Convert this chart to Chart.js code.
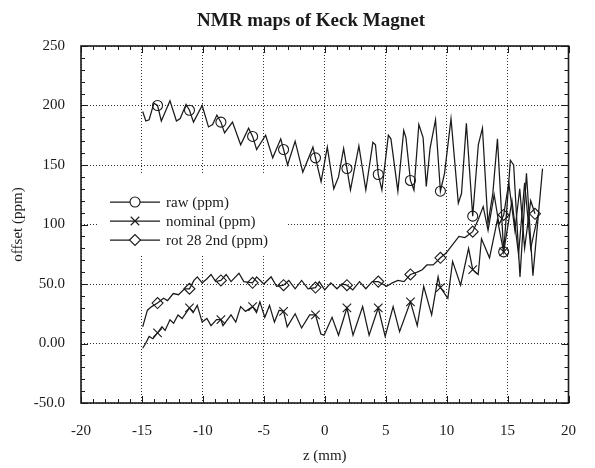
<!DOCTYPE html>
<html>
<head>
<meta charset="utf-8">
<script src="https://cdn.jsdelivr.net/npm/chart.js@4.4.1/dist/chart.umd.min.js"></script>
<style>
  html, body { margin: 0; padding: 0; background: #fff; }
</style>
</head>
<body>
<canvas id="nmrChart" width="595" height="468"></canvas>
<script>
// z positions (mm) and offsets (ppm)
const zRaw = [-14.94,-14.68,-14.41,-14.02,-13.72,-13.41,-12.70,-12.17,-11.86,-11.38,-11.10,-10.77,-10.06,-9.54,-9.20,-8.85,-8.52,-8.22,-7.57,-6.90,-6.25,-5.92,-5.59,-4.85,-4.27,-3.61,-3.38,-3.05,-2.43,-1.80,-0.97,-0.76,-0.30,0.21,0.74,1.13,1.55,1.82,2.11,2.80,3.37,3.95,4.16,4.39,4.69,5.22,5.43,6.00,6.48,6.66,7.03,7.32,7.72,8.07,8.33,8.64,9.09,9.49,9.83,10.36,10.96,11.22,11.62,12.14,12.60,12.94,13.39,13.79,14.17,14.68,15.23,15.50,16.02,16.55,17.08,17.87];
const raw = [195,187,188,202,200,187,204,187,189,201,196,186,200,182,184,192,186,177,186,167,181,174,163,175,156,172,163,150,170,144,165,156,136,165,130,140,164,147,129,166,129,169,167,142,129,175,172,128,179,173,137,129,184,173,132,164,188,128,143,189,118,126,185,107,167,181,101,126,172,77,154,150,56,143,57,147];

const zNom = [-14.94,-14.70,-14.41,-14.10,-13.72,-13.36,-13.10,-12.70,-12.40,-12.04,-11.70,-11.10,-10.80,-10.46,-10.06,-9.67,-9.33,-8.88,-8.52,-8.35,-7.69,-7.30,-6.90,-6.50,-5.92,-5.60,-5.32,-4.92,-4.53,-4.13,-3.74,-3.38,-3.08,-2.43,-1.90,-1.24,-0.76,-0.32,-0.06,0.60,1.13,1.82,2.32,3.11,3.64,4.39,4.96,5.61,6.14,7.03,7.59,8.12,8.77,9.30,9.49,10.10,10.49,11.15,11.80,12.14,12.59,12.86,13.52,14.17,14.68,15.36,15.90,16.40,16.90,17.50];
const nominal = [-4,0,6,4,9,14,11,20,17,24,21,30,26,32,18,21,15,20,20,15,24,18,31,27,31,26,35,22,32,18,28,27,14,25,13,24,24,8,7,22,7,30,7,31,7,30,6,31,10,35,15,48,24,56,47,38,69,49,80,62,58,88,72,104,77,120,75,135,80,108];

const zRot = [-14.94,-14.55,-14.20,-13.72,-13.23,-12.90,-12.43,-12.00,-11.50,-11.10,-10.73,-10.46,-10.06,-9.70,-9.33,-8.95,-8.52,-8.09,-7.69,-7.04,-6.64,-5.92,-5.59,-5.00,-4.40,-3.95,-3.38,-2.95,-2.43,-1.90,-1.37,-0.76,-0.45,0.00,0.50,1.00,1.40,1.82,2.30,2.85,3.37,3.90,4.39,5.08,5.55,6.00,6.50,7.03,7.59,8.00,8.38,8.90,9.49,9.96,10.49,11.01,11.50,12.14,12.59,13.00,13.40,13.90,14.30,14.68,15.10,15.60,16.00,16.40,16.90,17.25];
const rot28 = [14,28,31,34,38,36,42,41,46,46,53,56,51,54,58,52,53,58,52,59,52,51,56,50,56,48,49,53,46,53,46,47,52,45,51,46,50,49,45,52,46,52,52,48,51,53,52,58,60,62,66,66,72,76,83,90,89,94,104,115,95,125,100,108,135,95,130,80,120,109];

// z positions where the plot puts a symbol
const markZ = [-13.72,-11.10,-8.52,-5.92,-3.38,-0.76,1.82,4.39,7.03,9.49,12.14,14.68,17.25];

const seriesNames = ["raw (ppm)", "nominal (ppm)", "rot 28 2nd (ppm)"];
const yTickLabels = ["-50.0", "0.00", "50.0", "100", "150", "200", "250"];

const serif = "'Liberation Serif', 'DejaVu Serif', serif";
const ink = "#1a1a1a";

const styles = ["circle", "crossRot", "rectRot"];
const markSize = [5, 6, 5.5];

function toPoints(zs, vals) {
  return zs.map((z, i) => ({ x: z, y: vals[i] }));
}

function lineSet(i, zs, vals) {
  return {
    label: seriesNames[i],
    data: toPoints(zs, vals),
    borderColor: ink,
    borderWidth: 1.25,
    backgroundColor: "rgba(255,255,255,0)",
    pointStyle: styles[i],
    // symbol only on the marked z positions
    pointRadius: ctx => {
      const z = ctx.raw ? ctx.raw.x : null;
      return markZ.some(m => Math.abs(m - z) < 0.001) ? markSize[i] : 0;
    },
    pointBorderWidth: 1.1,
    pointBorderColor: ink,
    pointBackgroundColor: "rgba(255,255,255,0)",
    tension: 0,
    fill: false
  };
}

// frame, inner ticks, title and the boxed legend
const decorations = {
  id: "decorations",
  afterDraw(chart) {
    const { ctx, chartArea: a, scales: { x, y } } = chart;
    ctx.save();
    ctx.strokeStyle = ink;
    ctx.lineWidth = 1;
    ctx.beginPath();
    for (let v = -20; v <= 20; v++) {
      const px = Math.round(x.getPixelForValue(v)) + 0.5;
      const len = v % 5 === 0 ? 7 : 4;
      ctx.moveTo(px, a.bottom); ctx.lineTo(px, a.bottom - len);
      ctx.moveTo(px, a.top); ctx.lineTo(px, a.top + len);
    }
    for (let v = -50; v <= 250; v += 10) {
      const py = Math.round(y.getPixelForValue(v)) + 0.5;
      const len = v % 50 === 0 ? 7 : 4;
      ctx.moveTo(a.left, py); ctx.lineTo(a.left + len, py);
      ctx.moveTo(a.right, py); ctx.lineTo(a.right - len, py);
    }
    ctx.stroke();

    ctx.lineWidth = 1.6;
    ctx.strokeRect(a.left, a.top, a.right - a.left, a.bottom - a.top);

    // title
    ctx.fillStyle = ink;
    ctx.font = "bold 19px " + serif;
    ctx.textAlign = "center";
    ctx.textBaseline = "middle";
    ctx.fillText("NMR maps of Keck Magnet", 311, 21);

    // legend
    ctx.fillStyle = "#fff";
    ctx.fillRect(97, 175, 190, 79);
    const rows = [202, 221, 240];
    ctx.font = "15px " + serif;
    ctx.textAlign = "left";
    rows.forEach((ry, i) => {
      ctx.strokeStyle = ink;
      ctx.lineWidth = 1.25;
      ctx.beginPath();
      ctx.moveTo(110, ry); ctx.lineTo(160, ry);
      ctx.stroke();
      ctx.fillStyle = "#fff";
      ctx.lineWidth = 1.1;
      Chart.helpers.drawPoint(ctx, { pointStyle: styles[i], radius: markSize[i], rotation: 0, borderWidth: 1.1 }, 135, ry);
      ctx.fillStyle = ink;
      ctx.fillText(seriesNames[i], 166, ry + 1);
    });
    ctx.restore();
  }
};

new Chart(document.getElementById("nmrChart"), {
  type: "line",
  data: {
    datasets: [
      lineSet(0, zRaw, raw),
      lineSet(1, zNom, nominal),
      lineSet(2, zRot, rot28)
    ]
  },
  options: {
    responsive: false,
    animation: false,
    devicePixelRatio: 1,
    layout: { padding: { top: 46, right: 8, left: 0, bottom: 0 } },
    plugins: {
      legend: { display: false },
      title: { display: false },
      tooltip: { enabled: false }
    },
    scales: {
      x: {
        type: "linear",
        min: -20,
        max: 20,
        afterFit: s => { s.height = 65; },
        ticks: {
          stepSize: 5,
          color: ink,
          padding: 19,
          maxRotation: 0,
          font: { family: serif, size: 15 }
        },
        grid: { color: "#333", lineWidth: 1, drawTicks: false },
        border: { display: false, dash: [1, 2] },
        title: {
          display: true,
          text: "z (mm)",
          color: ink,
          font: { family: serif, size: 15 },
          padding: { top: 0, bottom: 3 }
        }
      },
      y: {
        min: -50,
        max: 250,
        afterFit: s => { s.width = 81; },
        ticks: {
          stepSize: 50,
          color: ink,
          padding: 16,
          font: { family: serif, size: 15 },
          callback: (v, i) => yTickLabels[i]
        },
        grid: { color: "#333", lineWidth: 1, drawTicks: false },
        border: { display: false, dash: [1, 2] },
        title: {
          display: true,
          text: "offset (ppm)",
          color: ink,
          font: { family: serif, size: 15 },
          padding: { top: 9, bottom: 0 }
        }
      }
    }
  },
  plugins: [decorations]
});
</script>
</body>
</html>
